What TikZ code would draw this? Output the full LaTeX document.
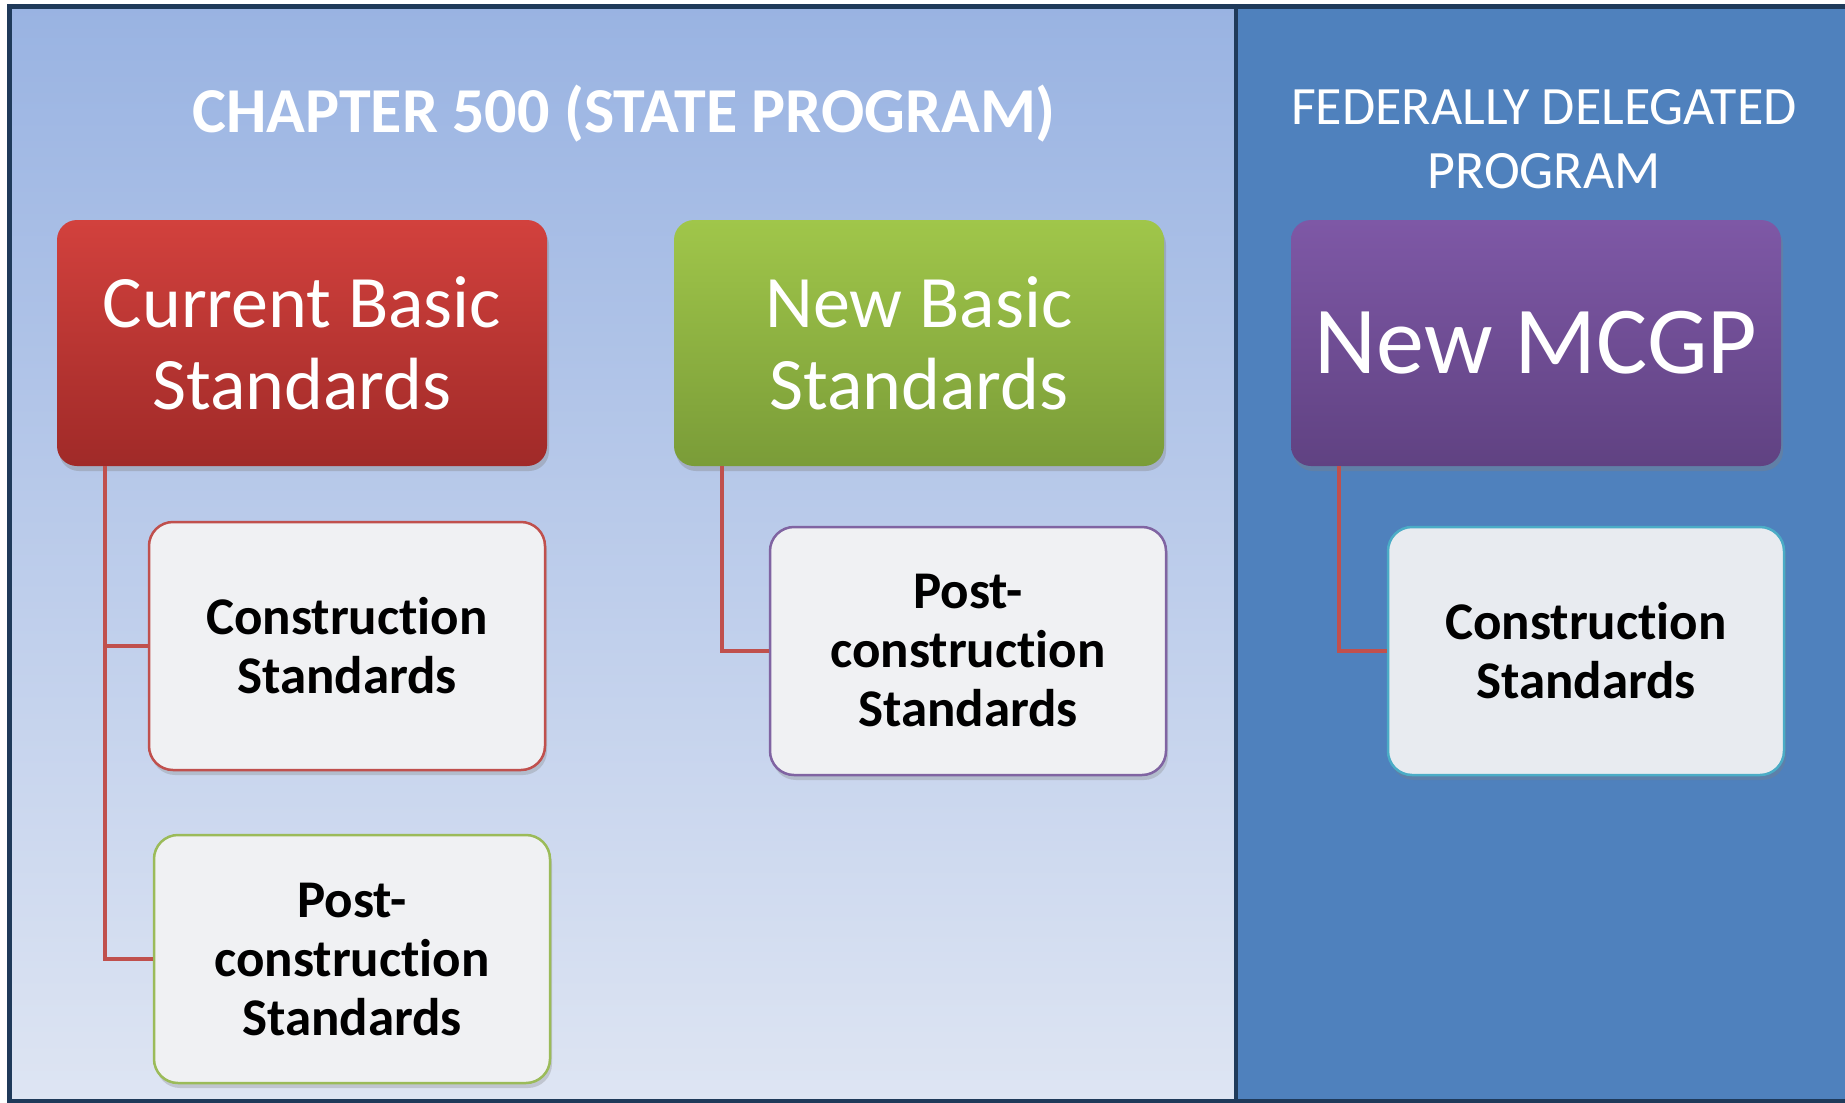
\documentclass[tikz,border=0pt]{standalone}
\usepackage{fontspec}
\setmainfont[Ligatures=NoCommon]{Carlito}
\usetikzlibrary{shadows}

\definecolor{framenavy}{HTML}{1F3A5A}
\definecolor{paneltop}{HTML}{99B3E2}
\definecolor{panelbot}{HTML}{DEE5F3}
\definecolor{fedblue}{HTML}{4F81BD}
\definecolor{redtop}{HTML}{D2413D}
\definecolor{redbot}{HTML}{A02A28}
\definecolor{greentop}{HTML}{A0C64A}
\definecolor{greenbot}{HTML}{7A9C38}
\definecolor{purptop}{HTML}{7E58A6}
\definecolor{purpbot}{HTML}{604282}
\definecolor{linkred}{HTML}{C0504D}
\definecolor{leafgreen}{HTML}{9BBB59}
\definecolor{purpline}{HTML}{8064A2}
\definecolor{tealline}{HTML}{4BACC6}
\definecolor{boxgray}{HTML}{F0F1F3}
\definecolor{boxgraytwo}{HTML}{E8EBF0}

\begin{document}
\begin{tikzpicture}[x=1pt,y=-1pt,
    headbox/.style={rounded corners=20pt, minimum width=490pt, minimum height=246pt,
        inner sep=0pt, text=white, align=center, font=\fontsize{74}{82}\selectfont,
        drop shadow={opacity=0.35, shadow xshift=2pt, shadow yshift=-5pt}},
    subbox/.style={rounded corners=24pt, fill=boxgray, line width=2.5pt,
        minimum width=396pt, minimum height=248pt, inner sep=0pt, align=center,
        font=\bfseries\fontsize{53}{59}\selectfont,
        drop shadow={opacity=0.3, shadow xshift=2pt, shadow yshift=-5pt}},
    link/.style={draw=linkred, line width=4pt}]
        \useasboundingbox (0,0) rectangle (1845,1103);

        % panels
        \shade[top color=paneltop, bottom color=panelbot] (8,5) rectangle (1236,1103);
        \fill[fedblue] (1236,5) rectangle (1850,1103);
        \draw[framenavy, line width=5pt] (1850,6) -- (9,6) -- (9,1101) -- (1850,1101);
        \draw[framenavy, line width=4pt] (1236,6) -- (1236,1101);

        \node[text=white, font=\bfseries\fontsize{64}{70}\selectfont] (chap) at (624,114) {CHAPTER 500 (STATE PROGRAM)};
        \node[text=white, align=center, font=\fontsize{54}{64}\selectfont] (fed) at (1544,139) {FEDERALLY DELEGATED\\PROGRAM};

        % top level
        \node[headbox, top color=redtop, bottom color=redbot] (cur) at (302,343) {Current Basic\\Standards};
        \node[headbox, top color=greentop, bottom color=greenbot] (newb) at (919,343) {New Basic\\Standards};
        \node[headbox, top color=purptop, bottom color=purpbot, font=\fontsize{96}{100}\selectfont] (mcgp) at (1536,343) {New MCGP};

        % second level
        \node[subbox, draw=linkred] (cons) at (347,646) {Construction\\Standards};
        \node[subbox, draw=leafgreen] (post) at (352,959) {Post-\\construction\\Standards};
        \node[subbox, draw=purpline] (newpost) at (968,651) {Post-\\construction\\Standards};
        \node[subbox, draw=tealline, fill=boxgraytwo] (fedcons) at (1586,651) {Construction\\Standards};

        \draw[link] ([xshift=48pt]cur.south west) |- (cons.west);
        \draw[link] ([xshift=48pt]cur.south west) |- (post.west);
        \draw[link] ([xshift=48pt]newb.south west) |- (newpost.west);
        \draw[link] ([xshift=48pt]mcgp.south west) |- (fedcons.west);
    \end{tikzpicture}
\end{document}
